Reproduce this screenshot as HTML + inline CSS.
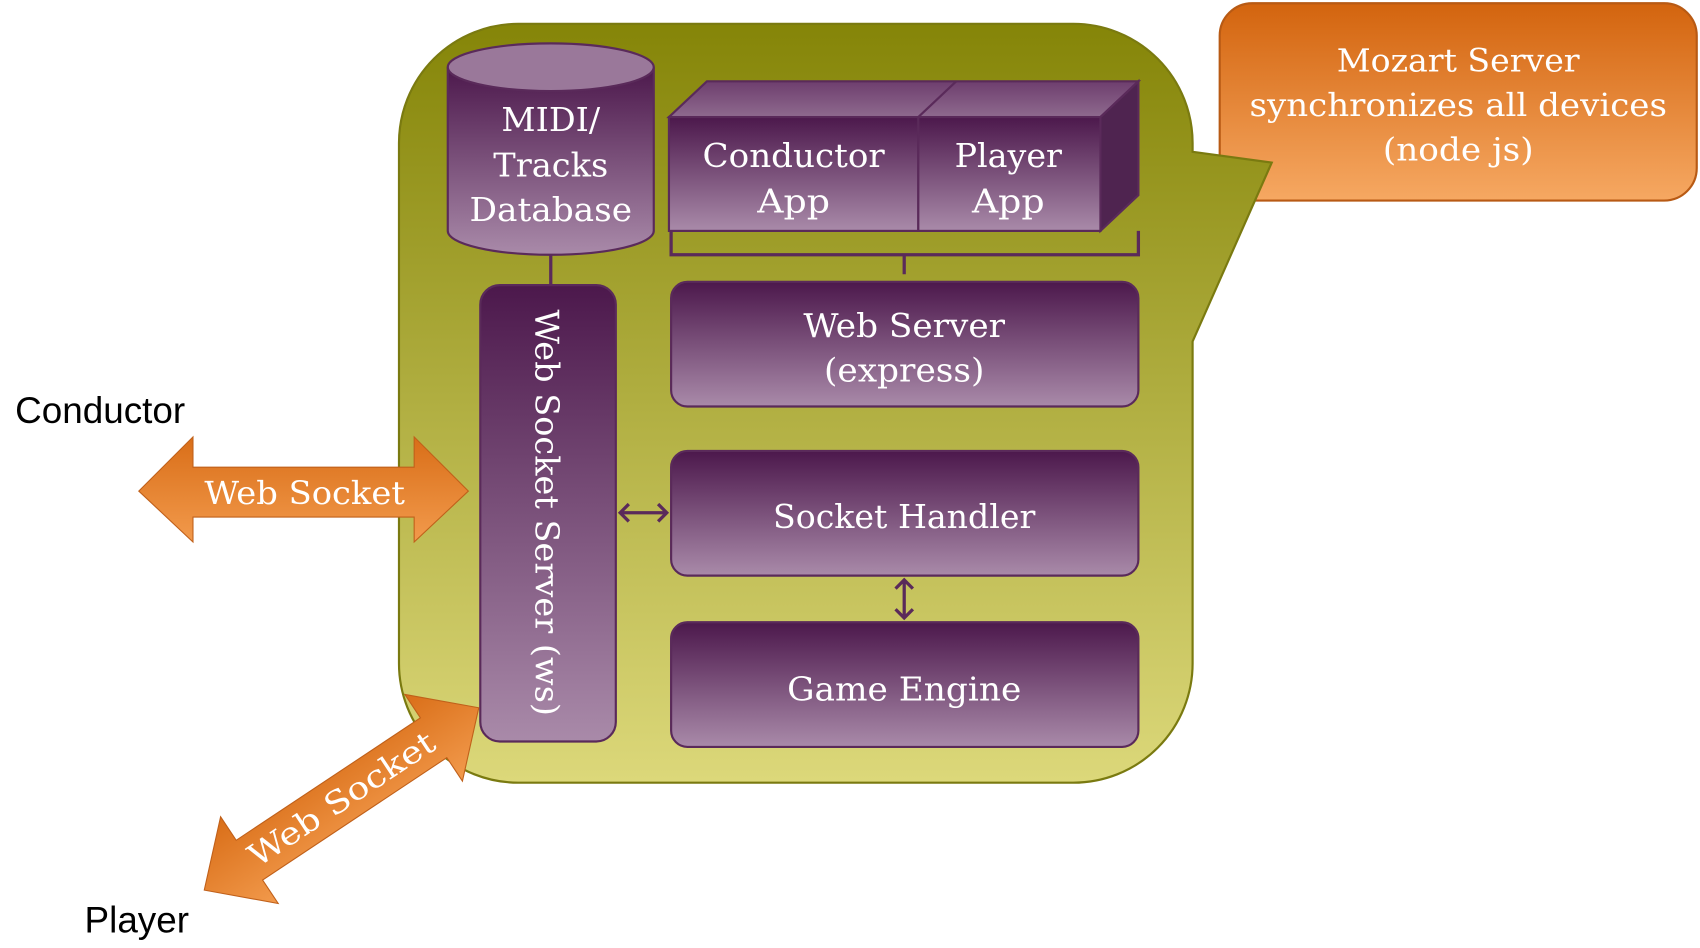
<!DOCTYPE html>
<html><head><meta charset="utf-8"><style>html,body{margin:0;padding:0;background:#fff;width:1700px;height:948px;overflow:hidden}</style></head>
<body>
<svg width="1700" height="948" viewBox="0 0 1568 874.5" preserveAspectRatio="none" xmlns="http://www.w3.org/2000/svg">
<defs>
<linearGradient id="g" x1="0" y1="0" x2="0" y2="1"><stop offset="0" stop-color="#858508"/><stop offset="1" stop-color="#dcd87a"/></linearGradient>
<linearGradient id="o" x1="0" y1="0" x2="0" y2="1"><stop offset="0" stop-color="#d3640e"/><stop offset="1" stop-color="#f6a862"/></linearGradient>
<linearGradient id="oa" x1="0" y1="0" x2="0" y2="1"><stop offset="0" stop-color="#d96e18"/><stop offset="1" stop-color="#f29a4c"/></linearGradient>
<linearGradient id="p" x1="0" y1="0" x2="0" y2="1"><stop offset="0" stop-color="#4c184c"/><stop offset="1" stop-color="#a98aa9"/></linearGradient>
<linearGradient id="pt" x1="0" y1="0" x2="0" y2="1"><stop offset="0" stop-color="#6e3e6e"/><stop offset="1" stop-color="#8e6a8e"/></linearGradient>
</defs>
<style>text{font-family:"DejaVu Serif","Liberation Serif",serif;fill:#fff;text-anchor:middle}.s{font-family:"Liberation Sans",sans-serif;fill:#000;text-anchor:start}</style>
<!-- orange box -->
<rect x="1125" y="3" width="440" height="182" rx="30" fill="url(#o)" stroke="#b85a14" stroke-width="2"/>
<text font-size="29" x="1345" y="66" textLength="224" lengthAdjust="spacingAndGlyphs">Mozart Server</text>
<text font-size="29" x="1345" y="107" textLength="385" lengthAdjust="spacingAndGlyphs">synchronizes all devices</text>
<text font-size="29" x="1345" y="148" textLength="139" lengthAdjust="spacingAndGlyphs">(node js)</text>
<!-- green callout -->
<path d="M478,22 H990 A110,110 0 0 1 1100,132 V140 L1173,150 L1100,315 V612 A110,110 0 0 1 990,722 H478 A110,110 0 0 1 368,612 V132 A110,110 0 0 1 478,22 Z" fill="url(#g)" stroke="#7a7a10" stroke-width="2"/>
<!-- cylinder -->
<path d="M413,62 V213 A95,22 0 0 0 603,213 V62" fill="url(#p)" stroke="#5a2a5a" stroke-width="2"/>
<ellipse cx="508" cy="62" rx="95" ry="22" fill="#9a789a" stroke="#5a2a5a" stroke-width="2"/>
<text font-size="30" x="508" y="121" textLength="91" lengthAdjust="spacingAndGlyphs">MIDI/</text>
<text font-size="30" x="508" y="163" textLength="106" lengthAdjust="spacingAndGlyphs">Tracks</text>
<text font-size="30" x="508" y="204" textLength="150" lengthAdjust="spacingAndGlyphs">Database</text>
<!-- cube -->
<path d="M617,108 L652,75 H1050 L1015,108 Z" fill="url(#pt)" stroke="#5a2a5a" stroke-width="2"/>
<path d="M847,108 L882,75" stroke="#5a2a5a" stroke-width="2"/>
<path d="M1015,108 L1050,75 V180 L1015,213 Z" fill="#4f2450" stroke="#5a2a5a" stroke-width="2"/>
<rect x="617" y="108" width="230" height="105" fill="url(#p)" stroke="#5a2a5a" stroke-width="2"/>
<rect x="847" y="108" width="168" height="105" fill="url(#p)" stroke="#5a2a5a" stroke-width="2"/>
<text font-size="30" x="732" y="154" textLength="168" lengthAdjust="spacingAndGlyphs">Conductor</text>
<text font-size="30" x="732" y="196" textLength="67" lengthAdjust="spacingAndGlyphs">App</text>
<text font-size="30" x="930" y="154" textLength="99" lengthAdjust="spacingAndGlyphs">Player</text>
<text font-size="30" x="930" y="196" textLength="67" lengthAdjust="spacingAndGlyphs">App</text>
<path d="M619,213 V235 H1050 V213 M834,235 V253" fill="none" stroke="#5a2a5a" stroke-width="3"/>
<path d="M508,235 V263" stroke="#5a2a5a" stroke-width="3"/>
<!-- ws server -->
<rect x="443" y="263" width="125" height="421" rx="18" fill="url(#p)" stroke="#5a2a5a" stroke-width="2"/>
<text font-size="30" transform="translate(494,473) rotate(90)" textLength="375" lengthAdjust="spacingAndGlyphs">Web Socket Server (ws)</text>
<!-- boxes -->
<rect x="619" y="260" width="431" height="115" rx="15" fill="url(#p)" stroke="#5a2a5a" stroke-width="2"/>
<text font-size="30" x="834" y="311" textLength="186" lengthAdjust="spacingAndGlyphs">Web Server</text>
<text font-size="30" x="834" y="352" textLength="148" lengthAdjust="spacingAndGlyphs">(express)</text>
<rect x="619" y="416" width="431" height="115" rx="15" fill="url(#p)" stroke="#5a2a5a" stroke-width="2"/>
<text font-size="30" x="834" y="487" textLength="242" lengthAdjust="spacingAndGlyphs">Socket Handler</text>
<rect x="619" y="574" width="431" height="115" rx="15" fill="url(#p)" stroke="#5a2a5a" stroke-width="2"/>
<text font-size="30" x="834" y="646" textLength="216" lengthAdjust="spacingAndGlyphs">Game Engine</text>
<!-- small arrows -->
<path d="M572,473 H615 M580,465 L572,473 L580,481 M607,465 L615,473 L607,481" fill="none" stroke="#5a2a5a" stroke-width="3"/>
<path d="M834,535 V570 M826,543 L834,535 L842,543 M826,562 L834,570 L842,562" fill="none" stroke="#5a2a5a" stroke-width="3"/>
<!-- labels -->
<text class="s" font-size="34" x="14" y="390">Conductor</text>
<text class="s" font-size="34" x="78" y="860">Player</text>
<!-- orange horizontal arrow -->
<path d="M128,453 L178,403 V431 H382 V403 L432,453 L382,500 V477 H178 V500 Z" fill="url(#oa)" stroke="#c0601a" stroke-width="1"/>
<text font-size="29" x="281" y="465" textLength="185" lengthAdjust="spacingAndGlyphs">Web Socket</text>
<!-- diagonal -->
<g transform="translate(315,737) rotate(-33.6)">
<path d="M-152,0 L-102,-48 V-22 H102 V-48 L152,0 L102,48 V22 H-102 V48 Z" fill="url(#oa)" stroke="#c0601a" stroke-width="1"/>
<text font-size="29" x="0" y="10" textLength="200" lengthAdjust="spacingAndGlyphs">Web Socket</text>
</g>
</svg>
</body></html>
